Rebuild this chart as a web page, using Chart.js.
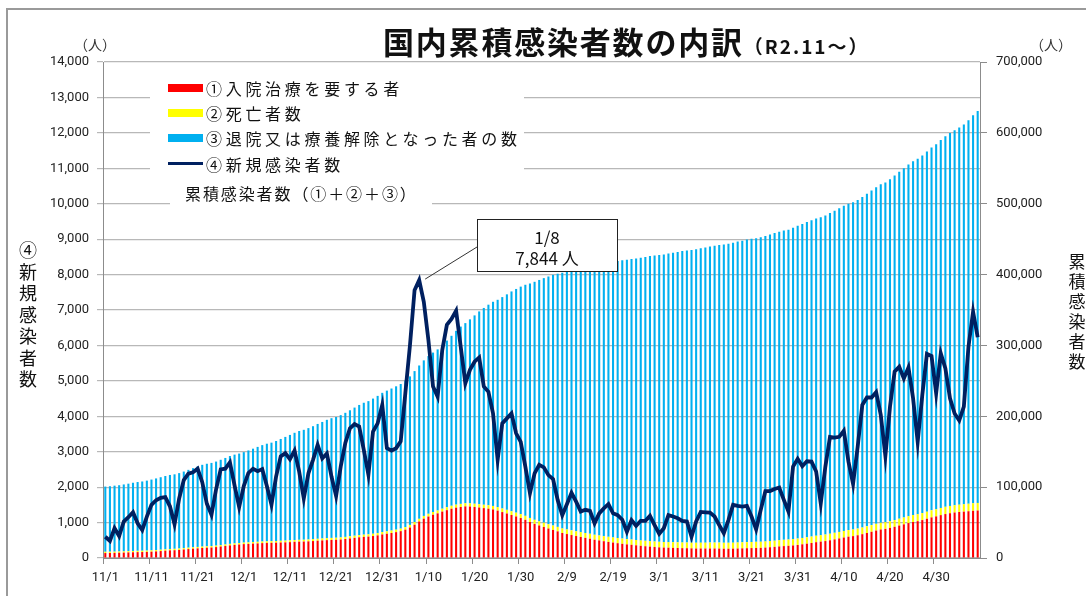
<!DOCTYPE html>
<html>
<head>
<meta charset="utf-8">
<script src="https://cdn.jsdelivr.net/npm/chart.js@4/dist/chart.umd.min.js"></script>
<style>
  body { margin: 0; background: #fff; }
  #wrap { position: relative; width: 1086px; height: 596px; overflow: hidden; font-family: "Noto Sans CJK JP", sans-serif; color: #111; }
  #myChart { position: absolute; left: 0; top: 0; }
  .frame { position: absolute; left: 6px; top: 8px; width: 1200px; height: 700px; border-left: 2px solid #9a9a9a; border-top: 2px solid #9a9a9a; }
  .abs { position: absolute; white-space: nowrap; }
  .title { left: 383px; top: 19px; font-size: 31px; font-weight: 700; letter-spacing: 1.8px; line-height: 44px; }
  .title span { font-size: 19px; letter-spacing: 2px; }
  .unit { top: 34px; font-size: 14px; line-height: 20px; color: #333; }
  .vlabel { text-align: center; }
  .mask { position: absolute; background: #fff; }
  .sw { position: absolute; left: 168px; width: 35px; height: 8px; }
  .lg { left: 206px; font-size: 16px; letter-spacing: 3.7px; line-height: 20px; }
</style>
</head>
<body>
<div id="wrap">
  <canvas id="myChart" width="1086" height="596"></canvas>
  <div class="frame"></div>
  <div class="abs title">国内累積感染者数の内訳<span>（R2.11～）</span></div>
  <div class="abs unit" style="left:74px">（人）</div>
  <div class="abs unit" style="left:1030px">（人）</div>
  <div class="abs vlabel" style="left:17px; top:239px; width:22px; font-size:18px; line-height:21.5px">④<br>新<br>規<br>感<br>染<br>者<br>数</div>
  <div class="abs vlabel" style="left:1066px; top:251px; width:22px; font-size:17px; line-height:20px">累<br>積<br>感<br>染<br>者<br>数</div>

  <div class="mask" style="left:150px; top:66px; width:374px; height:116px"></div>
  <div class="mask" style="left:170px; top:182px; width:262px; height:32px"></div>
  <div class="sw" style="top:84px; background:#ff0000"></div>
  <div class="abs lg" style="top:78px">①入院治療を要する者</div>
  <div class="sw" style="top:109px; background:#ffff00"></div>
  <div class="abs lg" style="top:103px">②死亡者数</div>
  <div class="sw" style="top:134px; background:#00b0f0"></div>
  <div class="abs lg" style="top:128px">③退院又は療養解除となった者の数</div>
  <div class="sw" style="top:162px; height:3px; background:#002060"></div>
  <div class="abs lg" style="top:154px">④新規感染者数</div>
  <div class="abs" style="left:185px; top:183px; font-size:16px; letter-spacing:1.9px; line-height:20px">累積感染者数（①＋②＋③）</div>
</div>
<script>
// daily categories, 2020/11/1 - 2021/5/9
const dates = [];
for (let i = 0; i < 190; i++) {
  const d = new Date(2020, 10, 1 + i);
  dates.push((d.getMonth() + 1) + "/" + d.getDate());
}

const tick_labels = ["11/1", "11/11", "11/21", "12/1", "12/11", "12/21", "12/31",
  "1/10", "1/20", "1/30", "2/9", "2/19", "3/1", "3/11", "3/21", "3/31",
  "4/10", "4/20", "4/30"];

// ④ new cases per day (persons)
const new_cases = [
  600, 480, 840, 620, 1030, 1150, 1290, 980, 790, 1170,
  1500, 1630, 1700, 1720, 1460, 950, 1680, 2200, 2380, 2420,
  2520, 2140, 1530, 1220, 1940, 2500, 2520, 2700, 2050, 1440,
  2030, 2400, 2520, 2450, 2510, 2030, 1500, 2300, 2870, 2960,
  2790, 3030, 2440, 1680, 2390, 2770, 3190, 2810, 2950, 2300,
  1750, 2580, 3250, 3660, 3780, 3710, 3050, 2350, 3570, 3800,
  4320, 3100, 3030, 3100, 3290, 4650, 6000, 7560, 7844, 7230,
  6150, 4840, 4550, 5870, 6580, 6750, 6980, 5960, 4930, 5310,
  5540, 5660, 4840, 4690, 4080, 2770, 3800, 3940, 4080, 3520,
  3280, 2580, 1830, 2390, 2630, 2560, 2340, 2230, 1640, 1210,
  1520, 1840, 1590, 1310, 1360, 1330, 980, 1260, 1400, 1520,
  1260, 1210, 1080, 740, 1070, 910, 1050, 1050, 1190, 930,
  680, 840, 1210, 1170, 1120, 1050, 1030, 600, 1030, 1300,
  1290, 1280, 1170, 930, 700, 1070, 1500, 1470, 1450, 1470,
  1170, 810, 1360, 1890, 1890, 1950, 1990, 1640, 1310, 2580,
  2800, 2590, 2730, 2720, 2440, 1540, 2580, 3420, 3400, 3420,
  3590, 2720, 2090, 3140, 4320, 4530, 4530, 4680, 4040, 2880,
  4270, 5260, 5400, 5070, 5380, 4510, 3280, 4600, 5760, 5700,
  4650, 5780, 5350, 4510, 4080, 3880, 4270, 5960, 6950, 6230,
];

// cumulative cases ①+②+③ (thousand persons)
const cumulative_k = [
  100.8, 101.3, 102.1, 102.7, 103.8, 104.9, 106.2, 107.2, 108.0, 109.2,
  110.7, 112.3, 114.0, 115.7, 117.2, 118.1, 119.8, 122.0, 124.4, 126.8,
  129.3, 131.5, 133.0, 134.2, 136.1, 138.6, 141.2, 143.9, 145.9, 147.4,
  149.4, 151.8, 154.3, 156.8, 159.3, 161.3, 162.8, 165.1, 168.0, 170.9,
  173.7, 176.7, 179.2, 180.9, 183.3, 186.0, 189.2, 192.0, 195.0, 197.3,
  199.0, 201.6, 204.9, 208.5, 212.3, 216.0, 219.1, 221.4, 225.0, 228.8,
  233.1, 236.2, 239.2, 242.3, 245.6, 250.3, 256.3, 263.8, 271.7, 278.9,
  285.0, 289.9, 294.4, 300.3, 306.9, 313.6, 320.6, 326.6, 331.5, 336.8,
  342.4, 348.0, 352.9, 357.5, 361.6, 364.4, 368.2, 372.1, 376.2, 379.7,
  383.0, 385.6, 387.4, 389.8, 392.4, 395.0, 397.3, 399.6, 401.2, 402.4,
  403.9, 405.8, 407.4, 408.7, 410.0, 411.4, 412.4, 413.6, 415.0, 416.5,
  417.8, 419.0, 420.1, 420.8, 421.9, 422.8, 423.9, 424.9, 426.1, 427.0,
  427.7, 428.5, 429.8, 430.9, 432.0, 433.1, 434.1, 434.7, 435.8, 437.1,
  438.3, 439.6, 440.8, 441.7, 442.4, 443.5, 445.0, 446.5, 447.9, 449.4,
  450.6, 451.4, 452.7, 454.6, 456.5, 458.5, 460.4, 462.1, 463.4, 466.0,
  468.8, 471.4, 474.1, 476.8, 479.3, 480.8, 483.4, 486.8, 490.2, 493.6,
  497.2, 499.9, 502.0, 505.2, 509.5, 514.0, 518.5, 523.2, 527.3, 530.1,
  534.4, 539.7, 545.1, 550.1, 555.5, 560.0, 563.3, 567.9, 573.7, 579.4,
  584.0, 589.8, 595.1, 599.7, 603.7, 607.6, 611.9, 617.8, 624.8, 631.0,
];

// ① requiring hospital treatment (thousand persons)
const hospitalized_k = [
  7.0, 7.1, 7.2, 7.4, 7.6, 7.9, 8.1, 8.3, 8.4, 8.6,
  8.9, 9.3, 9.8, 10.3, 10.8, 11.0, 11.4, 12.0, 12.6, 13.1,
  13.6, 14.1, 14.5, 14.8, 15.4, 16.2, 17.0, 17.8, 18.5, 19.0,
  19.6, 19.9, 20.3, 20.6, 21.0, 21.3, 21.4, 21.6, 21.9, 22.1,
  22.4, 22.8, 23.1, 23.2, 23.5, 23.9, 24.4, 24.8, 25.2, 25.5,
  25.7, 26.1, 26.8, 27.6, 28.4, 29.2, 29.8, 30.2, 31.0, 31.9,
  33.2, 34.2, 35.3, 36.5, 37.9, 40.0, 43.0, 47.0, 51.5, 55.5,
  58.5, 61.0, 63.0, 65.5, 67.5, 69.5, 71.0, 72.0, 72.8, 72.6,
  72.0, 71.2, 70.4, 69.6, 68.5, 66.8, 64.8, 62.8, 60.7, 58.6,
  56.4, 53.9, 50.8, 48.1, 45.9, 43.8, 41.6, 39.6, 37.6, 35.3,
  33.8, 32.4, 31.0, 29.7, 28.4, 27.2, 25.8, 24.8, 23.7, 22.7,
  21.8, 20.9, 20.0, 19.2, 18.6, 17.9, 17.2, 16.6, 16.1, 15.5,
  15.0, 14.7, 14.5, 14.3, 14.1, 13.9, 13.8, 13.6, 13.4, 13.4,
  13.4, 13.4, 13.4, 13.3, 13.1, 13.1, 13.2, 13.4, 13.6, 13.8,
  14.0, 14.1, 14.3, 14.7, 15.2, 15.7, 16.3, 16.8, 17.2, 17.7,
  18.4, 19.3, 20.2, 21.2, 22.3, 23.1, 23.9, 25.0, 26.3, 27.6,
  28.9, 30.1, 30.9, 32.1, 33.6, 35.3, 37.0, 38.7, 40.2, 41.1,
  42.4, 44.0, 45.8, 47.5, 49.3, 50.8, 52.0, 53.5, 55.4, 57.3,
  58.7, 60.5, 62.0, 63.2, 64.2, 64.9, 65.4, 66.0, 66.6, 67.0,
];

// ② deaths (thousand persons)
const deaths_k = [
  1.76, 1.77, 1.78, 1.80, 1.81, 1.82, 1.83, 1.84, 1.86, 1.87,
  1.88, 1.89, 1.90, 1.92, 1.93, 1.94, 1.95, 1.96, 1.98, 1.99,
  2.00, 2.01, 2.02, 2.04, 2.05, 2.06, 2.08, 2.09, 2.10, 2.12,
  2.14, 2.18, 2.21, 2.25, 2.28, 2.31, 2.34, 2.37, 2.41, 2.45,
  2.49, 2.52, 2.55, 2.58, 2.62, 2.66, 2.71, 2.75, 2.80, 2.84,
  2.87, 2.91, 2.96, 3.01, 3.05, 3.10, 3.14, 3.18, 3.23, 3.29,
  3.36, 3.41, 3.45, 3.49, 3.54, 3.60, 3.66, 3.72, 3.78, 3.85,
  3.90, 3.95, 4.02, 4.09, 4.16, 4.23, 4.30, 4.37, 4.43, 4.49,
  4.58, 4.67, 4.76, 4.86, 4.95, 5.02, 5.07, 5.17, 5.28, 5.39,
  5.51, 5.61, 5.70, 5.80, 5.91, 6.02, 6.12, 6.22, 6.31, 6.39,
  6.49, 6.60, 6.69, 6.77, 6.86, 6.93, 6.97, 7.03, 7.10, 7.17,
  7.24, 7.31, 7.38, 7.44, 7.48, 7.52, 7.58, 7.64, 7.70, 7.76,
  7.80, 7.84, 7.88, 7.94, 8.00, 8.05, 8.09, 8.12, 8.16, 8.21,
  8.26, 8.31, 8.36, 8.40, 8.42, 8.45, 8.48, 8.53, 8.57, 8.61,
  8.64, 8.66, 8.69, 8.72, 8.76, 8.80, 8.84, 8.87, 8.90, 8.93,
  8.97, 9.00, 9.04, 9.08, 9.12, 9.15, 9.18, 9.21, 9.24, 9.27,
  9.30, 9.32, 9.34, 9.36, 9.38, 9.41, 9.44, 9.47, 9.50, 9.53,
  9.56, 9.60, 9.65, 9.70, 9.75, 9.80, 9.85, 9.90, 9.95, 10.02,
  10.09, 10.15, 10.22, 10.29, 10.35, 10.41, 10.48, 10.56, 10.64, 10.72,
];

const peak_date = "1/8";

// ③ = cumulative - ① - ②
const hospitalized = hospitalized_k.map((v) => v * 1000);
const deaths = deaths_k.map((v) => v * 1000);
const recovered = cumulative_k.map((v, i) => v * 1000 - hospitalized[i] - deaths[i]);

const tick_font = { family: "Roboto", size: 13 };
const grid_color = "#b8b8b8";
const axis_color = "#8c8c8c";
const bar_pct = 0.45;

const data = {
  labels: dates,
  datasets: [
    {
      type: "bar",
      label: "①入院治療を要する者",
      data: hospitalized,
      backgroundColor: "#ff0000",
      yAxisID: "y1",
      barPercentage: bar_pct,
      categoryPercentage: 1,
      order: 1,
    },
    {
      type: "bar",
      label: "②死亡者数",
      data: deaths,
      backgroundColor: "#ffff00",
      yAxisID: "y1",
      barPercentage: bar_pct,
      categoryPercentage: 1,
      order: 1,
    },
    {
      type: "bar",
      label: "③退院又は療養解除となった者の数",
      data: recovered,
      backgroundColor: "#00b0f0",
      yAxisID: "y1",
      barPercentage: bar_pct,
      categoryPercentage: 1,
      order: 1,
    },
    {
      type: "line",
      label: "④新規感染者数",
      data: new_cases,
      borderColor: "#002060",
      borderWidth: 3.8,
      pointRadius: 0,
      tension: 0,
      yAxisID: "y",
      order: 0,
    },
  ],
};

// callout box pointing at the 1/8 peak
const callout = {
  id: "callout",
  afterDatasetsDraw(chart) {
    const idx = dates.indexOf(peak_date);
    const pt = chart.getDatasetMeta(3).data[idx];
    const ctx = chart.ctx;
    ctx.save();
    ctx.strokeStyle = "#333";
    ctx.lineWidth = 1;
    ctx.beginPath();
    ctx.moveTo(477, 247);
    ctx.lineTo(pt.x + 6, pt.y - 1);
    ctx.stroke();
    ctx.fillStyle = "#fff";
    ctx.fillRect(477, 219, 140, 52);
    ctx.strokeStyle = "#222";
    ctx.strokeRect(477.5, 219.5, 140, 52);
    ctx.fillStyle = "#111";
    ctx.font = '17px "Noto Sans CJK JP"';
    ctx.textAlign = "center";
    ctx.textBaseline = "middle";
    ctx.fillText(peak_date, 547, 238);
    ctx.fillText(new_cases[idx].toLocaleString("en-US") + " 人", 547, 259);
    ctx.restore();
  },
};

// config
const config = {
  data,
  plugins: [callout],
  options: {
    responsive: false,
    animation: false,
    devicePixelRatio: 1,
    layout: { padding: { top: 62, left: 0, right: 0, bottom: 0 } },
    plugins: { legend: { display: false }, tooltip: { enabled: false } },
    scales: {
      x: {
        stacked: true,
        offset: true,
        grid: {
          offset: true,
          drawOnChartArea: false,
          tickLength: 6,
          color: (ctx) => (tick_labels.includes(dates[ctx.index]) ? axis_color : "transparent"),
        },
        border: { color: axis_color },
        ticks: {
          autoSkip: false,
          maxRotation: 0,
          minRotation: 0,
          padding: 6,
          color: "#222",
          font: tick_font,
          callback: (v, i) => (tick_labels.includes(dates[i]) ? dates[i] : ""),
        },
        afterFit: (s) => { s.height = 38; },
      },
      y: {
        position: "left",
        min: 0,
        max: 14000,
        grid: { color: grid_color, tickLength: 6, lineWidth: 1.2 },
        border: { color: axis_color },
        ticks: {
          stepSize: 1000,
          padding: 8,
          color: "#222",
          font: tick_font,
          callback: (v) => v.toLocaleString("en-US"),
        },
        afterFit: (s) => { s.width = 103; },
      },
      y1: {
        position: "right",
        stacked: true,
        min: 0,
        max: 700000,
        grid: { drawOnChartArea: false, color: axis_color, tickLength: 7 },
        border: { color: axis_color },
        ticks: {
          stepSize: 100000,
          padding: 9,
          color: "#222",
          font: tick_font,
          callback: (v) => v.toLocaleString("en-US"),
        },
        afterFit: (s) => { s.width = 106; },
      },
    },
  },
};

// render init block
const myChart = new Chart(document.getElementById("myChart"), config);
</script>
</body>
</html>
